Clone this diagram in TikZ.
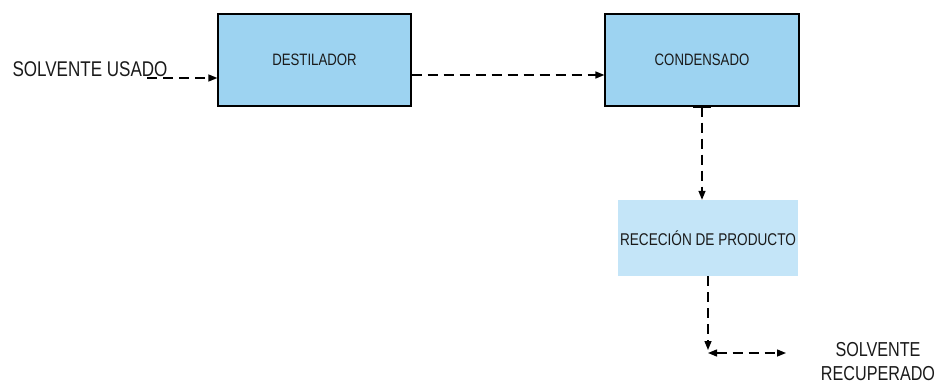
\documentclass[tikz,border=0pt]{standalone}
\usepackage{fontspec}
\setmainfont{Liberation Sans}[FakeStretch=0.8]
\usetikzlibrary{arrows.meta}
\definecolor{boxblue}{HTML}{9DD3F1}
\definecolor{paleblue}{HTML}{C4E5F8}
\definecolor{ink}{HTML}{1A1A1A}
\tikzset{
  procbox/.style={draw=black, line width=1.2pt, fill=boxblue, minimum width=193pt,
    minimum height=92pt, inner sep=0pt, font=\fontsize{16.5}{18}\selectfont, text=ink},
  softbox/.style={fill=paleblue, minimum width=180pt, minimum height=76pt, inner sep=0pt,
    font=\fontsize{17}{19}\selectfont, text=ink},
  outlabel/.style={font=\fontsize{20.2}{24}\selectfont, text=ink, align=center, inner sep=0pt},
  flow/.style={line width=1.4pt, dash pattern=on 10pt off 6pt,
    -{Triangle[length=9pt,width=7pt]}},
  flowboth/.style={line width=1.4pt, dash pattern=on 10pt off 6pt,
    {Triangle[length=9pt,width=7pt]}-{Triangle[length=9pt,width=7pt]}}
}
\begin{document}
\begin{tikzpicture}[x=1pt,y=-1pt]
\useasboundingbox (0,0) rectangle (936,385);

% process blocks
\node[procbox] (dest) at (314.5,60) {DESTILADOR};
\node[procbox, minimum width=194pt] (cond) at (702,60) {CONDENSADO};
\node[softbox] (rec) at (708,238) {RECECIÓN DE PRODUCTO};

% feed and product labels
\node[outlabel, font=\fontsize{21.3}{24}\selectfont] (feed) at (90,69) {SOLVENTE USADO};
\node[outlabel] (prod) at (878,362) {SOLVENTE\\RECUPERADO};

% free ends of the connectors
\coordinate (feedstart) at (147,78);
\coordinate (drop) at (708,350);
\coordinate (corner) at (708,353);
\coordinate (outend) at (786,353);
\coordinate (tapl) at (693,107);
\coordinate (tapr) at (711,107);

% connectors
\draw[flow] (feedstart) -- (feedstart -| dest.west);
\draw[flow] ([yshift=-15pt]dest.east) -- ([yshift=-15pt]cond.west);
\draw[line width=2.5pt] (tapl) -- (tapr);
\draw[flow] (cond.south) -- (cond.south |- rec.north);
\draw[flow] (rec.south) -- (drop);
\draw[flowboth] (corner) -- (outend);
\end{tikzpicture}
\end{document}
